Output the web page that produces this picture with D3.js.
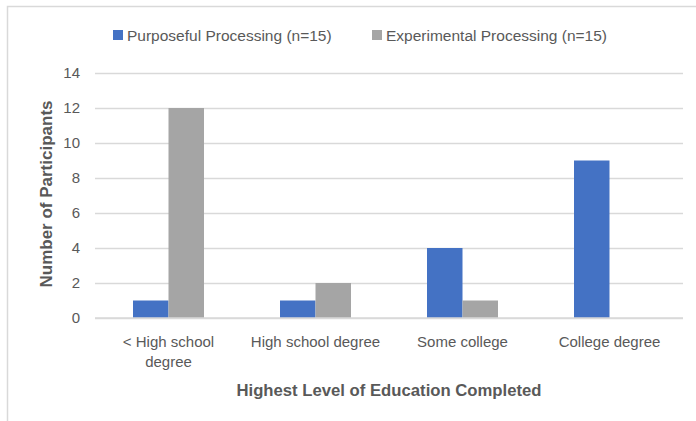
<!DOCTYPE html>
<html>
<head>
<meta charset="utf-8">
<script src="https://cdn.jsdelivr.net/npm/d3@7"></script>
<style>
  html, body { margin: 0; padding: 0; background: #fff; }
  svg { display: block; font-family: "Liberation Sans", Arial, sans-serif; }
</style>
</head>
<body>
<svg id="chart" width="696" height="421"></svg>
<script>
// Education level by processing group
const categories = ["< High school degree", "High school degree", "Some college", "College degree"];
const categoryLines = [["< High school", "degree"], ["High school degree"], ["Some college"], ["College degree"]];
const seriesNames = ["Purposeful Processing (n=15)", "Experimental Processing (n=15)"];
const purposeful = [1, 1, 4, 9];
const experimental = [12, 2, 1, 0];
const yTicks = [0, 2, 4, 6, 8, 10, 12, 14];
const colors = ["#4472C4", "#A5A5A5"];

const svg = d3.select("#chart");
const W = 696, H = 421;
const margin = { left: 95, right: 13, top: 73, bottom: 103 };
const x0 = margin.left, x1 = W - margin.right;
const yTop = margin.top, yBot = H - margin.bottom;

// chart frame (open to the right and bottom)
svg.append("rect")
  .attr("x", 7.5).attr("y", 6.5)
  .attr("width", W + 20).attr("height", H + 20)
  .attr("fill", "none").attr("stroke", "#d9d9d9").attr("stroke-width", 1.5);

const x = d3.scaleBand().domain(categories).range([x0, x1]).paddingInner(0).paddingOuter(0);
// the two bars of a group sit side by side, centred in the category band
const barW = 35.5;
const xs = d3.scaleBand().domain(seriesNames)
  .range([x.bandwidth() / 2 - barW, x.bandwidth() / 2 + barW]).padding(0);
const y = d3.scaleLinear().domain([0, 14]).range([yBot, yTop]);

// gridlines + y labels
const yAxis = d3.axisLeft(y).tickValues(yTicks).tickSize(-(x1 - x0)).tickPadding(15);
const gy = svg.append("g").attr("transform", `translate(${x0},0)`).call(yAxis);
gy.select(".domain").remove();
gy.selectAll(".tick line").attr("stroke", "#d9d9d9").attr("stroke-width", 1.5);
gy.selectAll(".tick text").attr("fill", "#595959").style("font-size", "15px");

// bars
const rows = categories.map((c, i) => ({ c, vals: [purposeful[i], experimental[i]] }));
const groups = svg.append("g").selectAll("g").data(rows).join("g")
  .attr("transform", d => `translate(${x(d.c)},0)`);
groups.selectAll("rect")
  .data(d => d.vals.map((v, k) => ({ v, k })).filter(e => e.v > 0))
  .join("rect")
  .attr("x", e => xs(seriesNames[e.k]))
  .attr("width", xs.bandwidth())
  .attr("y", e => y(e.v))
  .attr("height", e => y(0) - y(e.v))
  .attr("fill", e => colors[e.k]);

// baseline
svg.append("line").attr("x1", x0).attr("x2", x1).attr("y1", yBot).attr("y2", yBot)
  .attr("stroke", "#d9d9d9").attr("stroke-width", 1.5);

// x category labels
const xl = svg.append("g");
categories.forEach((c, i) => {
  const cx = x(c) + x.bandwidth() / 2;
  const t = xl.append("text")
    .attr("text-anchor", "middle")
    .attr("fill", "#595959")
    .style("font-size", "15px");
  categoryLines[i].forEach((ln, j) => {
    t.append("tspan").attr("x", cx).attr("y", 347 + j * 20).text(ln);
  });
});

// axis titles
svg.append("text")
  .attr("x", (x0 + x1) / 2).attr("y", 396)
  .attr("text-anchor", "middle").attr("fill", "#595959")
  .style("font-size", "16.7px").style("font-weight", "bold")
  .text("Highest Level of Education Completed");

svg.append("text")
  .attr("transform", `translate(52,194) rotate(-90)`)
  .attr("text-anchor", "middle").attr("fill", "#595959")
  .style("font-size", "17px").style("font-weight", "bold")
  .text("Number of Participants");

// legend
const legendX = [113, 372];
const lg = svg.append("g");
seriesNames.forEach((s, k) => {
  lg.append("rect").attr("x", legendX[k]).attr("y", 30).attr("width", 10).attr("height", 10).attr("fill", colors[k]);
  lg.append("text").attr("x", legendX[k] + 14).attr("y", 41)
    .attr("fill", "#595959").style("font-size", "15.5px").text(s);
});
</script>
</body>
</html>
